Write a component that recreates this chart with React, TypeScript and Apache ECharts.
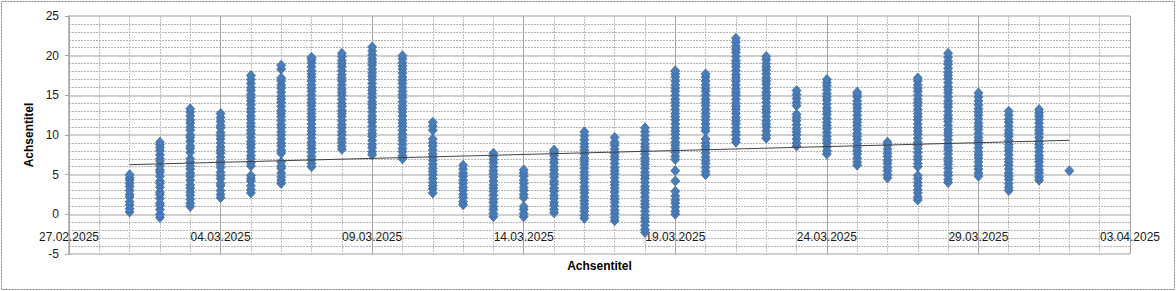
import React, { useEffect, useRef } from "react";
import * as echarts from "echarts";

// Measurement days (one column of readings per day)
const dates: string[] = [
  "01.03.2025", "02.03.2025", "03.03.2025", "04.03.2025", "05.03.2025", "06.03.2025",
  "07.03.2025", "08.03.2025", "09.03.2025", "10.03.2025", "11.03.2025", "12.03.2025",
  "13.03.2025", "14.03.2025", "15.03.2025", "16.03.2025", "17.03.2025", "18.03.2025",
  "19.03.2025", "20.03.2025", "21.03.2025", "22.03.2025", "23.03.2025", "24.03.2025",
  "25.03.2025", "26.03.2025", "27.03.2025", "28.03.2025", "29.03.2025", "30.03.2025",
  "31.03.2025", "01.04.2025",
];

// Readings per day (same order as dates)
const readings: number[][] = [
  [0.3, 0.7, 1.2, 1.6, 2.2, 2.5, 3.0, 3.5, 3.9, 4.3, 4.6, 5.0],
  [-0.4, 0.0, 0.6, 1.1, 1.4, 2.0, 2.5, 2.8, 3.4, 3.9, 4.2, 4.8, 5.3, 5.6, 6.1, 6.7, 7.0, 7.5, 8.0, 8.4, 8.8, 9.1],
  [1.0, 1.4, 1.9, 2.4, 2.8, 3.3, 3.7, 4.3, 4.8, 5.2, 5.7, 6.1, 6.6, 7.0, 7.8, 8.3, 8.6, 9.2, 9.7, 10.0, 10.6, 11.0, 11.5, 11.9, 12.4, 12.9, 13.3],
  [2.1, 2.5, 3.0, 3.6, 3.9, 4.5, 4.9, 5.3, 5.9, 6.3, 6.7, 7.2, 7.7, 8.1, 8.5, 9.0, 9.5, 9.9, 10.3, 10.9, 11.2, 11.7, 12.2, 12.7],
  [2.7, 3.1, 3.6, 4.2, 4.5, 4.9, 6.1, 6.5, 7.0, 7.4, 7.9, 8.4, 8.8, 9.2, 9.7, 10.2, 10.6, 11.1, 11.5, 12.0, 12.4, 12.9, 13.3, 13.8, 14.3, 14.7, 15.1, 15.6, 16.0, 16.5, 17.0, 17.5],
  [3.9, 4.3, 4.7, 5.2, 5.8, 6.1, 6.6, 7.7, 8.1, 8.6, 9.0, 9.5, 10.0, 10.4, 10.9, 11.3, 11.8, 12.3, 12.7, 13.1, 13.6, 14.1, 14.5, 14.9, 15.4, 15.9, 16.3, 16.8, 17.2, 18.3, 18.8],
  [6.0, 6.4, 6.9, 7.3, 7.8, 8.3, 8.7, 9.1, 9.6, 10.1, 10.5, 10.9, 11.4, 11.9, 12.3, 12.7, 13.2, 13.7, 14.1, 14.5, 15.0, 15.5, 15.9, 16.3, 16.8, 17.3, 17.7, 18.1, 18.6, 19.1, 19.5, 19.8],
  [8.2, 8.6, 9.1, 9.5, 10.0, 10.4, 10.9, 11.3, 11.8, 12.3, 12.7, 13.1, 13.6, 14.0, 14.5, 15.0, 15.4, 15.8, 16.3, 16.8, 17.2, 17.6, 18.1, 18.6, 19.0, 19.4, 19.9, 20.3],
  [7.5, 7.9, 8.4, 8.8, 9.3, 9.8, 10.2, 10.6, 11.1, 11.6, 12.0, 12.4, 12.9, 13.4, 13.8, 14.2, 14.7, 15.2, 15.6, 16.0, 16.5, 17.0, 17.4, 17.8, 18.3, 18.8, 19.2, 19.6, 20.1, 20.6, 21.1],
  [7.0, 7.4, 7.9, 8.3, 8.8, 9.3, 9.7, 10.1, 10.6, 11.1, 11.5, 11.9, 12.4, 12.9, 13.3, 13.7, 14.2, 14.7, 15.1, 15.5, 16.0, 16.5, 16.9, 17.3, 17.8, 18.3, 18.7, 19.1, 19.6, 20.0],
  [2.7, 3.2, 3.6, 4.0, 4.5, 5.0, 5.4, 5.8, 6.3, 6.8, 7.2, 7.6, 8.1, 8.6, 9.0, 9.5, 10.6, 11.1, 11.6],
  [1.2, 1.6, 2.1, 2.5, 3.0, 3.4, 3.9, 4.3, 4.8, 5.2, 5.7, 6.2],
  [-0.3, 0.1, 0.6, 1.0, 1.5, 1.9, 2.4, 2.9, 3.3, 3.7, 4.2, 4.7, 5.1, 5.5, 6.0, 6.5, 6.9, 7.3, 7.7],
  [-0.3, 0.1, 0.6, 1.0, 2.1, 2.5, 3.0, 3.4, 3.9, 4.3, 4.8, 5.2, 5.6],
  [0.2, 0.6, 1.1, 1.5, 2.0, 2.4, 2.9, 3.3, 3.8, 4.2, 4.7, 5.1, 5.6, 6.0, 6.5, 6.9, 7.4, 7.8, 8.1],
  [-0.5, -0.1, 0.4, 0.8, 1.3, 1.7, 2.2, 2.7, 3.1, 3.5, 4.0, 4.5, 4.9, 5.3, 5.8, 6.3, 6.7, 7.1, 7.6, 8.1, 8.5, 8.9, 9.4, 9.9, 10.4],
  [-0.8, -0.4, 0.1, 0.5, 1.0, 1.5, 1.9, 2.3, 2.8, 3.3, 3.7, 4.1, 4.6, 5.1, 5.5, 5.9, 6.4, 6.9, 7.3, 7.7, 8.2, 8.7, 9.1, 9.7],
  [-2.3, -1.9, -1.4, -0.9, -0.5, -0.1, 0.4, 0.9, 1.3, 1.7, 2.2, 2.7, 3.1, 3.5, 4.0, 4.5, 4.9, 5.3, 5.8, 6.3, 6.7, 7.1, 7.6, 8.1, 8.5, 8.9, 9.4, 9.9, 10.4, 10.9],
  [0.0, 0.4, 0.9, 1.4, 1.8, 2.3, 2.9, 4.2, 5.5, 6.9, 7.3, 7.8, 8.3, 8.7, 9.1, 9.6, 10.1, 10.5, 10.9, 11.4, 11.9, 12.3, 12.7, 13.2, 13.7, 14.1, 14.5, 15.0, 15.5, 15.9, 16.3, 16.8, 17.3, 17.7, 18.1],
  [5.0, 5.4, 5.9, 6.4, 6.8, 7.2, 7.7, 8.2, 8.6, 9.0, 9.5, 10.5, 10.9, 11.4, 11.9, 12.3, 12.7, 13.2, 13.7, 14.1, 14.5, 15.0, 15.5, 15.9, 16.3, 16.8, 17.3, 17.7],
  [9.1, 9.5, 10.0, 10.4, 10.9, 11.4, 11.8, 12.2, 12.7, 13.2, 13.6, 14.0, 14.5, 15.0, 15.4, 15.8, 16.3, 16.8, 17.2, 17.6, 18.1, 18.6, 19.0, 19.4, 19.9, 20.4, 20.8, 21.2, 21.7, 22.2],
  [9.6, 10.0, 10.5, 11.0, 11.4, 11.8, 12.3, 12.8, 13.2, 13.6, 14.1, 14.6, 15.0, 15.4, 15.9, 16.4, 16.8, 17.2, 17.7, 18.2, 18.6, 19.0, 19.5, 19.9],
  [8.6, 9.0, 9.5, 10.0, 10.4, 10.8, 11.3, 11.8, 12.2, 12.6, 13.7, 14.1, 14.6, 15.1, 15.6],
  [7.6, 8.0, 8.5, 9.0, 9.4, 9.8, 10.3, 10.8, 11.2, 11.6, 12.1, 12.6, 13.0, 13.4, 13.9, 14.4, 14.8, 15.2, 15.7, 16.2, 16.6, 17.0],
  [6.2, 6.6, 7.1, 7.6, 8.0, 8.4, 8.9, 9.4, 9.8, 10.2, 10.7, 11.2, 11.6, 12.0, 12.5, 13.0, 13.4, 13.8, 14.3, 14.8, 15.1, 15.4],
  [4.6, 5.0, 5.5, 5.9, 6.4, 6.8, 7.3, 7.7, 8.2, 8.7, 9.1],
  [1.8, 2.2, 2.7, 3.1, 3.6, 4.0, 4.5, 4.9, 6.0, 6.4, 6.9, 7.3, 7.8, 8.3, 8.7, 9.1, 9.6, 10.1, 10.5, 10.9, 11.4, 11.9, 12.3, 12.7, 13.2, 13.7, 14.1, 14.5, 15.0, 15.5, 15.9, 16.3, 16.8, 17.2],
  [4.0, 4.4, 4.9, 5.3, 5.8, 6.3, 6.7, 7.1, 7.6, 8.1, 8.5, 8.9, 9.4, 9.9, 10.3, 10.7, 11.2, 11.7, 12.1, 12.5, 13.0, 13.5, 13.9, 14.3, 14.8, 15.3, 15.7, 16.1, 16.6, 17.1, 17.5, 17.9, 18.4, 18.9, 19.3, 19.8, 20.3],
  [4.8, 5.2, 5.7, 6.1, 6.6, 7.1, 7.5, 7.9, 8.4, 8.9, 9.3, 9.7, 10.2, 10.7, 11.1, 11.5, 12.0, 12.5, 12.9, 13.3, 13.8, 14.3, 14.8, 15.3],
  [3.0, 3.4, 3.9, 4.4, 4.8, 5.2, 5.7, 6.2, 6.6, 7.0, 7.5, 8.0, 8.4, 8.8, 9.3, 9.8, 10.2, 10.6, 11.1, 11.6, 12.0, 12.5, 13.0],
  [4.3, 4.7, 5.2, 5.6, 6.1, 6.6, 7.0, 7.4, 7.9, 8.4, 8.8, 9.2, 9.7, 10.2, 10.6, 11.0, 11.5, 12.0, 12.4, 12.8, 13.2],
  [5.5],
];

// Linear trend line end points
const trendDates: string[] = ["01.03.2025", "01.04.2025"];
const trendValues: number[] = [6.26, 9.33];

// Axis bounds
const xAxisStart = "27.02.2025";
const xAxisEnd = "03.04.2025";
const yMin = -5;
const yMax = 25;
const yStep = 5;
const xStepDays = 5;

const axisTitleX = "Achsentitel";
const axisTitleY = "Achsentitel";

const FONT = "'Liberation Sans', Arial, sans-serif";

// dd.mm.yyyy -> spreadsheet serial day number
function toSerial(d: string): number {
  const [dd, mm, yyyy] = d.split(".").map(Number);
  const ms = Date.UTC(yyyy, mm - 1, dd) - Date.UTC(1899, 11, 30);
  return Math.round(ms / 86400000);
}
function fromSerial(n: number): string {
  const dt = new Date(Date.UTC(1899, 11, 30) + Math.round(n) * 86400000);
  const dd = String(dt.getUTCDate()).padStart(2, "0");
  const mm = String(dt.getUTCMonth() + 1).padStart(2, "0");
  return `${dd}.${mm}.${dt.getUTCFullYear()}`;
}

export default function App() {
  const ref = useRef<HTMLDivElement>(null);
  useEffect(() => {
    document.body.style.margin = "0";
    if (!ref.current) return;
    const chart = echarts.init(ref.current, null, { renderer: "svg" });

    const points: [number, number][] = [];
    dates.forEach((d, i) => {
      const x = toSerial(d);
      readings[i].forEach((v) => points.push([x, v]));
    });
    const trend = trendDates.map((d, i) => [toSerial(d), trendValues[i]]);

    chart.setOption({
      animation: false,
      backgroundColor: "#ffffff",
      grid: {
        left: 69,
        right: 46,
        top: 16,
        bottom: 37,
        containLabel: false,
        outerBoundsMode: "none",
      },
      xAxis: {
        type: "value",
        position: "bottom",
        min: toSerial(xAxisStart),
        max: toSerial(xAxisEnd),
        interval: xStepDays,
        name: axisTitleX,
        nameLocation: "middle",
        nameGap: 6,
        nameTextStyle: { fontFamily: FONT, fontSize: 12, fontWeight: "bold", color: "#000" },
        axisLine: { show: false, onZero: false },
        axisTick: { show: false },
        axisLabel: {
          fontFamily: FONT,
          fontSize: 12,
          color: "#1a1a1a",
          margin: -23,
          formatter: (v: number) => fromSerial(v),
        },
        splitLine: { show: true, lineStyle: { color: "#a6a6a6", width: 1 } },
        minorTick: { show: false, splitNumber: xStepDays },
        minorSplitLine: { show: true, lineStyle: { color: "#bdbdbd", width: 1, type: [2, 1] } },
      },
      yAxis: {
        type: "value",
        min: yMin,
        max: yMax,
        interval: yStep,
        name: axisTitleY,
        nameLocation: "middle",
        nameGap: 33,
        nameTextStyle: { fontFamily: FONT, fontSize: 12, fontWeight: "bold", color: "#000" },
        axisLine: { show: true, onZero: false, lineStyle: { color: "#a6a6a6", width: 1.5 } },
        axisTick: { show: true, length: 4, lineStyle: { color: "#a6a6a6" } },
        axisLabel: { fontFamily: FONT, fontSize: 12, color: "#1a1a1a", margin: 10 },
        splitLine: { show: true, lineStyle: { color: "#bfbfbf", width: 1.5 } },
        minorTick: { show: false, splitNumber: 5 },
        minorSplitLine: { show: true, lineStyle: { color: "#b3b3b3", width: 1, type: [2, 1] } },
      },
      graphic: [
        {
          type: "rect",
          shape: { x: 1.5, y: 1.5, width: 1173, height: 288 },
          style: { fill: "none", stroke: "#808080", lineWidth: 1, lineDash: [2, 1] },
          silent: true,
          z: 100,
        },
      ],
      series: [
        {
          type: "scatter",
          data: points,
          symbol: "diamond",
          symbolSize: [9, 10],
          itemStyle: { color: "#4a7ebb", borderColor: "#3c6596", borderWidth: 0.75, opacity: 1 },
          z: 2,
        },
        {
          type: "line",
          data: trend,
          symbol: "none",
          lineStyle: { color: "#404040", width: 1 },
          z: 3,
        },
      ],
    });
    return () => chart.dispose();
  }, []);
  return (
    <div
      ref={ref}
      style={{ position: "absolute", left: 0, top: 0, width: 1176, height: 291 }}
    />
  );
}
